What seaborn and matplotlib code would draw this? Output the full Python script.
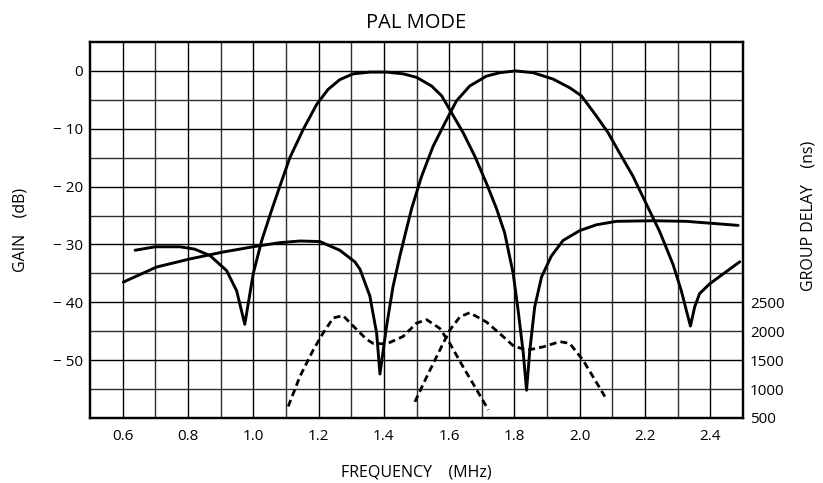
import matplotlib
matplotlib.use("Agg")
import matplotlib.pyplot as plt
import pandas as pd
import seaborn as sns

# gain curve 1 (passband around 1.4 MHz), dB
freq_a = [0.638, 0.70, 0.775, 0.82, 0.867, 0.918, 0.949, 0.974, 1.0, 1.026, 1.056, 1.081,
          1.112, 1.153, 1.194, 1.229, 1.265, 1.306, 1.357, 1.408, 1.459, 1.5, 1.546, 1.577,
          1.607, 1.643, 1.679, 1.714, 1.745, 1.77, 1.796, 1.811, 1.827, 1.837, 1.847, 1.862,
          1.883, 1.913, 1.949, 2.0, 2.051, 2.112, 2.224, 2.326, 2.485]
gain_a = [-31.0, -30.4, -30.4, -30.8, -31.9, -34.5, -38.0, -43.8, -35.0, -29.3, -24.1, -20.0,
          -15.0, -10.1, -5.8, -3.2, -1.5, -0.5, -0.2, -0.2, -0.5, -1.1, -2.6, -4.3,
          -7.2, -10.7, -14.8, -19.4, -23.8, -28.0, -35.0, -41.3, -48.8, -55.2, -48.3, -40.8,
          -35.6, -32.0, -29.3, -27.6, -26.6, -26.0, -25.9, -26.0, -26.7]

# gain curve 2 (passband around 1.8 MHz), dB
freq_b = [0.602, 0.704, 0.806, 0.908, 1.01, 1.08, 1.143, 1.204, 1.265, 1.311, 1.327, 1.357,
          1.378, 1.388, 1.408, 1.428, 1.449, 1.469, 1.485, 1.515, 1.551, 1.587, 1.622, 1.663,
          1.714, 1.755, 1.803, 1.857, 1.918, 1.969, 2.005, 2.051, 2.087, 2.122, 2.163, 2.209,
          2.245, 2.286, 2.311, 2.326, 2.339, 2.352, 2.367, 2.398, 2.439, 2.49]
gain_b = [-36.5, -33.9, -32.5, -31.3, -30.3, -29.7, -29.4, -29.5, -31.0, -33.0, -34.3, -38.9,
          -45.4, -52.4, -44.2, -37.3, -32.0, -27.4, -23.8, -18.3, -13.0, -9.0, -5.2, -2.6,
          -0.9, -0.3, 0.0, -0.3, -1.4, -2.9, -4.3, -7.8, -10.7, -14.2, -18.2, -23.6,
          -27.8, -33.5, -38.0, -41.3, -44.1, -40.8, -38.5, -36.8, -35.1, -33.0]

# group delay, ns
freq_gd_a = [1.107, 1.143, 1.184, 1.214, 1.245, 1.275, 1.306, 1.347, 1.367, 1.408, 1.459, 1.5,
             1.531, 1.571, 1.602, 1.643, 1.684, 1.72]
delay_a = [700, 1220, 1680, 1970, 2230, 2270, 2090, 1860, 1790, 1780, 1910, 2140,
           2200, 2050, 1790, 1380, 990, 640]

freq_gd_b = [1.495, 1.531, 1.571, 1.602, 1.633, 1.663, 1.714, 1.755, 1.796, 1.837, 1.888,
             1.939, 1.969, 2.01, 2.041, 2.077]
delay_b = [780, 1210, 1670, 2020, 2250, 2320, 2160, 1960, 1750, 1670, 1730,
           1820, 1790, 1500, 1210, 870]

x_ticks = [0.6, 0.8, 1.0, 1.2, 1.4, 1.6, 1.8, 2.0, 2.2, 2.4]
x_minor = [0.7, 0.9, 1.1, 1.3, 1.5, 1.7, 1.9, 2.1, 2.3]
gain_ticks = [0, -10, -20, -30, -40, -50]
gain_minor = [-5, -15, -25, -35, -45, -55]
gain_labels = ["0", "\u2212 10", "\u2212 20", "\u2212 30", "\u2212 40", "\u2212 50"]
delay_ticks = [500, 1000, 1500, 2000, 2500]

sns.set_style("white")
plt.rcParams["font.family"] = ["Open Sans", "DejaVu Sans"]
plt.rcParams["text.color"] = "black"
plt.rcParams["axes.labelcolor"] = "black"

fig, ax = plt.subplots(figsize=(8.23, 4.83), dpi=100)
fig.subplots_adjust(left=0.1094, right=0.9028, bottom=0.1346, top=0.913)

df_a = pd.DataFrame({"freq": freq_a, "gain": gain_a})
df_b = pd.DataFrame({"freq": freq_b, "gain": gain_b})
sns.lineplot(data=df_a, x="freq", y="gain", ax=ax, color="black", linewidth=2.1, zorder=3)
sns.lineplot(data=df_b, x="freq", y="gain", ax=ax, color="black", linewidth=2.1, zorder=3)

ax.set_xlim(0.5, 2.5)
ax.set_ylim(-60, 5)
ax.set_xticks(x_ticks)
ax.set_xticklabels([f"{v:.1f}" for v in x_ticks])
ax.set_xticks(x_minor, minor=True)
ax.set_yticks(gain_ticks)
ax.set_yticklabels(gain_labels)
ax.set_yticks(gain_minor, minor=True)
ax.grid(which="major", color="black", linewidth=1.0)
ax.grid(which="minor", color="#2e2e2e", linewidth=1.0)
ax.set_axisbelow(True)
ax.tick_params(which="both", length=0, labelsize=11, colors="black")
ax.tick_params(axis="x", pad=8)
ax.tick_params(axis="y", pad=5)
for sp in ax.spines.values():
    sp.set_color("black")
    sp.set_linewidth(1.6)

ax.set_xlabel("FREQUENCY    (MHz)", fontsize=11.5, labelpad=15, color="black")
ax.set_ylabel("GAIN    (dB)", fontsize=11.5, color="black")
ax.yaxis.set_label_coords(-0.095, 0.5)
ax.set_title("PAL MODE", fontsize=14.5, pad=10, color="black")

ax2 = ax.twinx()
gd_a = pd.DataFrame({"freq": freq_gd_a, "delay": delay_a})
gd_b = pd.DataFrame({"freq": freq_gd_b, "delay": delay_b})
sns.lineplot(data=gd_a, x="freq", y="delay", ax=ax2, color="black", linewidth=2.0,
             linestyle=(0, (2.5, 1.5)))
sns.lineplot(data=gd_b, x="freq", y="delay", ax=ax2, color="black", linewidth=2.0,
             linestyle=(0, (2.5, 1.5)))
ax2.set_ylim(500, 7000)
ax2.set_yticks(delay_ticks)
ax2.set_yticklabels([str(v) for v in delay_ticks])
ax2.grid(False)
ax2.tick_params(length=0, labelsize=11, pad=5, colors="black")
ax2.set_ylabel("GROUP DELAY    (ns)", fontsize=11.5, color="black")
ax2.yaxis.set_label_coords(1.0873, 0.537)
ax2.set_xlabel("")
for sp in ax2.spines.values():
    sp.set_color("black")
    sp.set_linewidth(1.6)

fig.savefig("out.png", dpi=100)
